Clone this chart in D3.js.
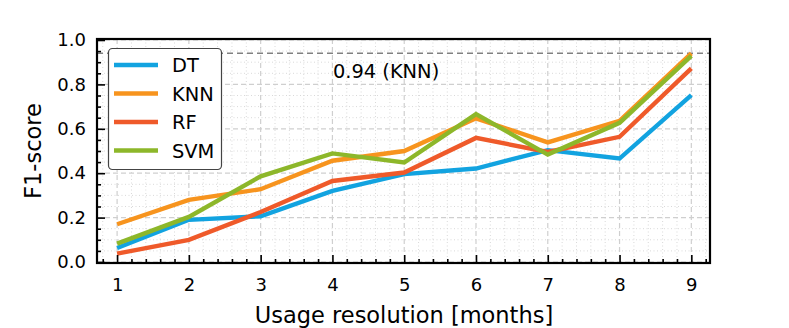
<!DOCTYPE html>
<html>
<head>
<meta charset="utf-8">
<script src="https://cdn.jsdelivr.net/npm/d3@7"></script>
<style>
  body { margin: 0; background: #fff; }
  svg { display: block; font-family: "DejaVu Sans", sans-serif; }
</style>
</head>
<body>
<div id="chart"></div>
<script>
// Data
const months = [1, 2, 3, 4, 5, 6, 7, 8, 9];
const dtScores = [0.063, 0.19, 0.206, 0.32, 0.396, 0.421, 0.504, 0.466, 0.752];
const knnScores = [0.17, 0.28, 0.328, 0.456, 0.50, 0.647, 0.539, 0.636, 0.94];
const rfScores = [0.038, 0.10, 0.225, 0.365, 0.403, 0.559, 0.496, 0.564, 0.872];
const svmScores = [0.083, 0.203, 0.386, 0.489, 0.448, 0.666, 0.484, 0.627, 0.928];
const yTicks = [0.0, 0.2, 0.4, 0.6, 0.8, 1.0];
const bestScore = 0.94;
const bestLabel = "0.94 (KNN)";

const width = 789, height = 328;
const plot = { left: 97, right: 710, top: 39, bottom: 263 };

const svg = d3.select("#chart").append("svg")
    .attr("width", width)
    .attr("height", height);

// Scales
const x = d3.scaleLinear().domain([0.72, 9.26]).range([plot.left, plot.right]);
const y = d3.scaleLinear().domain([0, 1]).range([262, 40]);

// Minor grid (dotted)
const xMinor = d3.range(0.8, 9.21, 0.2).filter(v => Math.abs(v - Math.round(v)) > 0.01);
const yMinor = d3.range(0.05, 1.0, 0.05).filter(v => Math.abs(v * 5 - Math.round(v * 5)) > 0.01);

svg.append("g").selectAll("line").data(xMinor).join("line")
    .attr("x1", d => x(d)).attr("x2", d => x(d))
    .attr("y1", plot.top).attr("y2", plot.bottom)
    .attr("stroke", "#d9d9d9").attr("stroke-width", 1).attr("stroke-dasharray", "1,2.5");
svg.append("g").selectAll("line").data(yMinor).join("line")
    .attr("x1", plot.left).attr("x2", plot.right)
    .attr("y1", d => y(d)).attr("y2", d => y(d))
    .attr("stroke", "#d9d9d9").attr("stroke-width", 1).attr("stroke-dasharray", "1,2.5");

// Major grid (dashed)
svg.append("g").selectAll("line").data(months).join("line")
    .attr("x1", d => x(d)).attr("x2", d => x(d))
    .attr("y1", plot.top).attr("y2", plot.bottom)
    .attr("stroke", "#cfcfcf").attr("stroke-width", 1.2).attr("stroke-dasharray", "5,3");
svg.append("g").selectAll("line").data(yTicks).join("line")
    .attr("x1", plot.left).attr("x2", plot.right)
    .attr("y1", d => y(d)).attr("y2", d => y(d))
    .attr("stroke", "#cfcfcf").attr("stroke-width", 1.2).attr("stroke-dasharray", "5,3");

// Best score reference line
svg.append("line")
    .attr("x1", plot.left).attr("x2", plot.right)
    .attr("y1", y(bestScore)).attr("y2", y(bestScore))
    .attr("stroke", "#808080").attr("stroke-width", 1.6).attr("stroke-dasharray", "6,4");

svg.append("text")
    .attr("x", 333).attr("y", 78)
    .style("font-size", "19.4px").style("fill", "#000")
    .text(bestLabel);

// Lines
const series = [
    { label: "DT", color: "#12a3e0", data: dtScores },
    { label: "KNN", color: "#f7941e", data: knnScores },
    { label: "RF", color: "#ef5a2a", data: rfScores },
    { label: "SVM", color: "#8db72a", data: svmScores }
];

const lineGen = d3.line()
    .x((d, i) => x(months[i]))
    .y(d => y(d));

series.forEach(s => {
    svg.append("path")
        .datum(s.data)
        .attr("fill", "none")
        .attr("stroke", s.color)
        .attr("stroke-width", 4.4)
        .attr("stroke-linejoin", "miter")
        .attr("d", lineGen);
});

// Axes with inward ticks
svg.append("g")
    .attr("transform", `translate(0,${plot.bottom})`)
    .call(d3.axisBottom(x).tickValues(months).tickSize(-8).tickPadding(15).tickFormat(d3.format("d")));
svg.append("g")
    .attr("transform", `translate(0,${plot.bottom})`)
    .call(d3.axisBottom(x).tickValues(xMinor).tickSize(-4).tickFormat(""));

svg.append("g")
    .attr("transform", `translate(${plot.left},0)`)
    .call(d3.axisLeft(y).tickValues(yTicks).tickSize(-8).tickPadding(11).tickFormat(d3.format(".1f")));
svg.append("g")
    .attr("transform", `translate(${plot.left},0)`)
    .call(d3.axisLeft(y).tickValues(yMinor).tickSize(-4).tickFormat(""));

svg.selectAll(".domain").remove();
svg.selectAll(".tick line").attr("stroke", "#000").attr("stroke-width", 1.6);
svg.selectAll(".tick text")
    .style("font-size", "18px")
    .style("font-family", "DejaVu Sans, sans-serif")
    .style("fill", "#000");

// Frame
svg.append("rect")
    .attr("x", plot.left).attr("y", plot.top)
    .attr("width", plot.right - plot.left).attr("height", plot.bottom - plot.top)
    .attr("fill", "none").attr("stroke", "#000").attr("stroke-width", 2.2);

// Axis labels
svg.append("text")
    .attr("x", 404).attr("y", 323)
    .attr("text-anchor", "middle")
    .style("font-size", "22.5px")
    .text("Usage resolution [months]");

svg.append("text")
    .attr("transform", `translate(41,${(plot.top + plot.bottom) / 2}) rotate(-90)`)
    .attr("text-anchor", "middle")
    .style("font-size", "22.5px")
    .text("F1-score");

// Legend
const legend = svg.append("g");
legend.append("rect")
    .attr("x", 108.5).attr("y", 48.5).attr("width", 113).attr("height", 121)
    .attr("rx", 4).attr("fill", "#fff").attr("stroke", "#444").attr("stroke-width", 1.2);

series.forEach((s, i) => {
    const cy = 65 + i * 28.5;
    legend.append("line")
        .attr("x1", 114).attr("x2", 158)
        .attr("y1", cy).attr("y2", cy)
        .attr("stroke", s.color).attr("stroke-width", 4.4);
    legend.append("text")
        .attr("x", 172).attr("y", cy + 7)
        .style("font-size", "19.4px")
        .text(s.label);
});
</script>
</body>
</html>
